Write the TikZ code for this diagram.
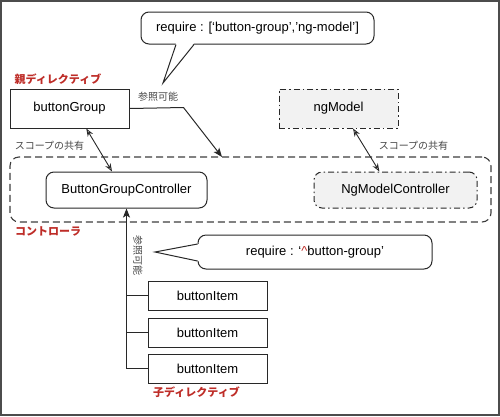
\documentclass[tikz,border=0pt]{standalone}
\usepackage{fontspec}
\setmainfont{Liberation Sans}
\newfontfamily\jp{Noto Sans CJK JP}
\usetikzlibrary{arrows.meta,calc}
\definecolor{lbl}{RGB}{190,45,40}
\definecolor{ln}{RGB}{40,40,40}
\definecolor{gfill}{RGB}{242,242,242}
\begin{document}
\begin{tikzpicture}[x=1pt,y=-1pt,
  box/.style={draw=ln, line width=1pt, fill=white, inner sep=0pt, text=black,
    minimum width=119pt, minimum height=39pt, font=\fontsize{13}{15}\selectfont},
  itembox/.style={box, minimum height=29pt},
  ctlbox/.style={box, rounded corners=8pt, minimum width=161pt, minimum height=36pt},
  dashdotbox/.style={draw=ln, line width=1pt, fill=gfill, dash pattern=on 6pt off 3pt on 1.5pt off 3pt},
  container/.style={draw=ln!90, line width=1.1pt, dash pattern=on 7pt off 4pt, rounded corners=9pt,
    minimum width=481pt, minimum height=65pt, inner sep=0pt},
  callout/.style={draw=ln, line width=1pt, fill=white, rounded corners=8pt, inner sep=0pt,
    font=\fontsize{13}{15}\selectfont},
  redlbl/.style={text=lbl, font=\jp\bfseries\fontsize{11}{13}\selectfont, inner sep=0pt},
  graylbl/.style={text=black!72, font=\jp\fontsize{10}{12}\selectfont, inner sep=0pt},
  openarr/.style={line width=0.9pt, draw=ln, {Stealth[open,length=8pt,width=6pt]}-{Stealth[open,length=8pt,width=6pt]}},
  fillarr/.style={line width=1pt, draw=ln, -{Stealth[length=9pt,width=7pt,inset=2pt]}},
  plain/.style={line width=1pt, draw=ln}
]
\useasboundingbox (0,0) rectangle (500,416);
\draw[line width=2pt, draw=black!70] (1,1) rectangle (499,415);

% container
\node[container] (ctr) at (250.5,189.5) {};

% nodes
\node[box] (bg) at (69.5,108.5) {buttonGroup};
\node[box, dashdotbox] (ngm) at (338.5,108.5) {ngModel};
\node[ctlbox] (bgc) at (126.5,190) {ButtonGroupController};
\node[ctlbox, dashdotbox, minimum width=163pt] (ngc) at (395.5,190) {NgModelController};
\node[itembox] (it1) at (207.5,295.5) {buttonItem};
\node[itembox] (it2) at (207.5,332.5) {buttonItem};
\node[itembox] (it3) at (207.5,368.5) {buttonItem};

% labels
\node[redlbl] (l1) at (58,79) {親ディレクティブ};
\node[redlbl] (l2) at (48,231) {コントローラ};
\node[redlbl] (l3) at (196.5,392) {子ディレクティブ};
\node[graylbl] (s1) at (49.5,146) {スコープの共有};
\node[graylbl] (s2) at (413.5,146) {スコープの共有};
\node[graylbl] (r1) at (158,97) {参照可能};
\node[graylbl, rotate=-90] (r2) at (138,255) {参照可能};

% connectors
\draw[openarr] (bg.-50) -- (bgc.128);
\draw[openarr] (ngm.-54) -- (ngc.131);
\coordinate (reftip) at (222,157);
\draw[fillarr] (bg.east) -- ++(54,-1) -- (reftip);
\draw[fillarr] (it3.west) -| (bgc.south);
\draw[plain] (it1.west) -- (it1.west -| bgc.south);
\draw[plain] (it2.west) -- (it2.west -| bgc.south);

% callouts
\node[callout, minimum width=233pt, minimum height=32pt] (c1) at (257.5,28)
  {require : [‘button-group’,’ng-model’]};
\coordinate (t1) at (163,83);
\fill[white] ($(c1.south)+(-81.5,-1.4)$) -- (t1) -- ($(c1.south)+(-63.5,-1.4)$) -- cycle;
\draw[plain, line join=miter] ($(c1.south)+(-81.5,0)$) -- (t1) -- ($(c1.south)+(-63.5,0)$);

\node[callout, minimum width=234pt, minimum height=34pt] (c2) at (315,252)
  {require : ‘{\color{lbl}\textasciicircum}button-group’};
\coordinate (t2) at (155,252);
\fill[white] ($(c2.west)+(1.4,-8)$) -- (t2) -- ($(c2.west)+(1.4,9)$) -- cycle;
\draw[plain, line join=miter] ($(c2.west)+(0,-8)$) -- (t2) -- ($(c2.west)+(0,9)$);
\end{tikzpicture}
\end{document}
